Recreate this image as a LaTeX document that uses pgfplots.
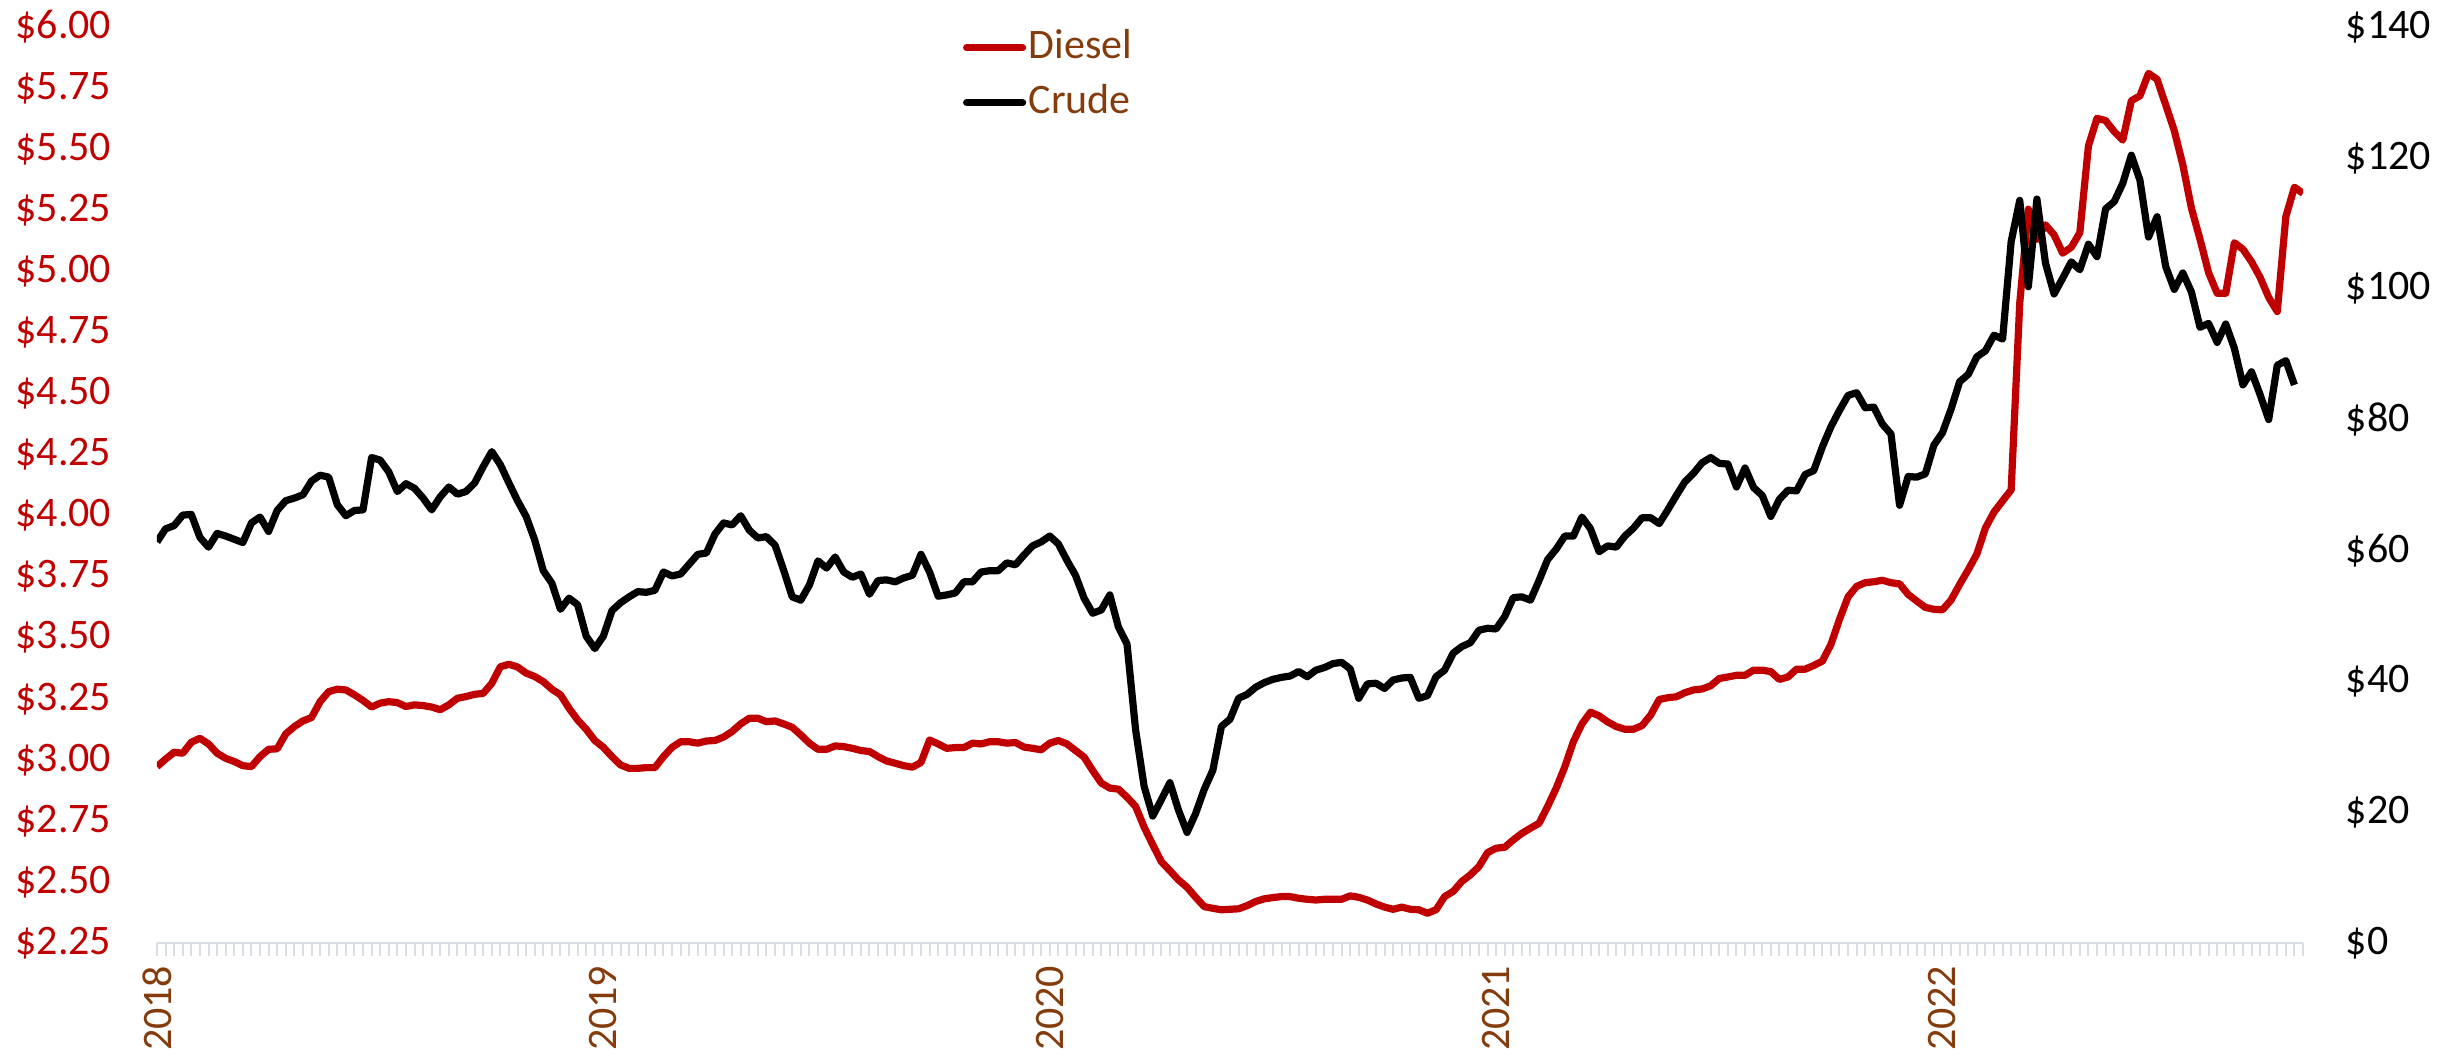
\documentclass[border=0pt]{standalone}
\usepackage{fontspec}
\setmainfont{Carlito}
\usepackage{pgfplots}
\pgfplotsset{compat=1.18}
\usepackage{pgfplotstable}
\definecolor{dred}{HTML}{C00000}
\definecolor{brn}{HTML}{843C0C}
\definecolor{axgray}{HTML}{D9DDE5}
\newcommand\lblfont{\fontsize{10.5}{12}\selectfont}

\pgfplotstableread{
d
2.972
3.003
3.031
3.027
3.072
3.088
3.065
3.027
3.006
2.993
2.976
2.972
3.013
3.043
3.045
3.106
3.136
3.159
3.173
3.238
3.279
3.289
3.286
3.266
3.243
3.216
3.232
3.238
3.234
3.218
3.225
3.222
3.216
3.205
3.225
3.252
3.259
3.268
3.272
3.313
3.381
3.391
3.380
3.355
3.341
3.320
3.289
3.266
3.211
3.163
3.125
3.079
3.051
3.013
2.979
2.965
2.965
2.968
2.968
3.013
3.051
3.074
3.074
3.068
3.077
3.079
3.093
3.116
3.147
3.170
3.170
3.156
3.159
3.147
3.133
3.102
3.068
3.043
3.043
3.057
3.054
3.047
3.038
3.034
3.013
2.995
2.986
2.976
2.970
2.989
3.081
3.065
3.047
3.050
3.050
3.068
3.065
3.074
3.074
3.068
3.071
3.052
3.047
3.041
3.068
3.079
3.065
3.038
3.011
2.956
2.905
2.884
2.880
2.847
2.809
2.724
2.652
2.583
2.546
2.508
2.478
2.437
2.399
2.392
2.386
2.388
2.390
2.403
2.420
2.431
2.436
2.440
2.440
2.433
2.429
2.426
2.429
2.429
2.429
2.443
2.437
2.426
2.410
2.397
2.388
2.397
2.388
2.386
2.372
2.386
2.440
2.461
2.502
2.529
2.563
2.620
2.638
2.642
2.672
2.699
2.720
2.740
2.809
2.884
2.971
3.074
3.147
3.195
3.180
3.155
3.136
3.125
3.125
3.140
3.183
3.247
3.254
3.258
3.275
3.286
3.290
3.303
3.333
3.339
3.346
3.346
3.367
3.367
3.361
3.329
3.339
3.371
3.371
3.386
3.404
3.472
3.575
3.667
3.710
3.725
3.729
3.735
3.725
3.720
3.677
3.650
3.624
3.616
3.614
3.654
3.718
3.778
3.842
3.949
4.014
4.060
4.105
4.870
5.254
5.131
5.190
5.149
5.074
5.098
5.158
5.513
5.626
5.617
5.572
5.537
5.698
5.718
5.810
5.786
5.681
5.576
5.435
5.258
5.131
4.994
4.910
4.910
5.117
5.090
5.039
4.975
4.893
4.835
5.224
5.344
5.319
}\dieseltab

\pgfplotstableread{
c
61.3
63.3
63.8
65.4
65.5
62.0
60.5
62.6
62.2
61.7
61.2
64.2
65.1
62.9
66.1
67.6
68.0
68.5
70.6
71.5
71.2
67.0
65.3
66.1
66.2
74.2
73.8
72.0
69.0
70.2
69.5
68.0
66.2
68.2
69.7
68.6
69.0
70.3
72.8
75.1
73.1
70.3
67.6
65.2
61.6
56.9
55.0
51.0
52.7
51.7
46.9
45.0
46.9
50.8
52.0
52.9
53.7
53.6
53.9
56.7
56.1
56.4
57.9
59.4
59.6
62.5
64.2
63.9
65.3
63.1
61.9
62.1
60.8
57.0
52.9
52.4
54.7
58.4
57.3
59.0
56.7
55.9
56.4
53.3
55.4
55.5
55.2
55.8
56.2
59.4
56.7
53.0
53.2
53.5
55.2
55.2
56.7
56.9
56.9
58.1
57.8
59.3
60.7
61.3
62.2
61.0
58.5
56.2
52.7
50.4
50.9
53.2
48.3
45.7
32.6
23.9
19.4
21.9
24.5
20.3
16.9
19.8
23.5
26.4
33.1
34.2
37.4
38.0
39.1
39.8
40.3
40.6
40.8
41.5
40.7
41.7
42.1
42.7
42.9
41.9
37.4
39.6
39.7
38.9
40.2
40.5
40.6
37.4
37.8
40.7
41.7
44.3
45.3
45.9
47.8
48.1
48.0
49.9
52.8
52.9
52.4
55.4
58.6
60.2
62.2
62.2
65.1
63.3
59.8
60.7
60.5
62.2
63.4
65.0
65.0
64.1
66.2
68.4
70.5
71.8
73.4
74.2
73.3
73.2
69.7
72.6
69.6
68.4
65.2
67.8
69.2
69.1
71.6
72.2
75.8
78.9
81.4
83.7
84.1
81.8
81.9
79.3
77.8
66.9
71.3
71.2
71.7
76.1
78.0
81.6
85.8
86.9
89.6
90.5
92.9
92.3
107.2
113.5
100.3
113.7
103.9
99.2
101.6
104.1
102.9
106.8
104.9
112.2
113.3
116.1
120.4
116.6
107.9
111.0
103.4
99.9
102.4
99.5
94.1
94.7
91.8
94.6
90.9
85.3
87.3
83.8
80.0
88.3
89.0
85.3
}\crudetab

\begin{document}
\begin{tikzpicture}
\pgfplotsset{/pgf/number format/assume math mode=true}
\begin{axis}[
  at={(0,0)}, anchor=south west,
  scale only axis, width=536.5pt, height=229pt,
  xmin=0, xmax=250, ymin=2.25, ymax=6,
  axis x line*=bottom, axis y line*=left,
  y axis line style={draw=none},
  x axis line style={draw=axgray, line width=0.6pt},
  xtick={0,52,104,156,208},
  xticklabels={2018,2019,2020,2021,2022},
  minor xtick={0,1,...,250},
  xtick align=outside, ytick align=inside,
  major tick length=3.3pt, minor tick length=3.3pt,
  xtick style={draw=axgray, line width=0.5pt},
  minor x tick style={draw=axgray, line width=0.5pt},
  xticklabel style={rotate=90, anchor=east, inner sep=0pt, font=\lblfont, text=brn},
  xticklabel shift=2.2pt,
  ytick={2.25,2.5,...,6},
  ytick style={draw=none},
  yticklabel={\$\pgfmathprintnumber[fixed,fixed zerofill,precision=2]{\tick}},
  yticklabel style={font=\lblfont, text=dred, inner sep=0pt, xshift=-11.25pt},
  legend style={at={(0.3756,0.998)}, anchor=north west, draw=none, fill=none,
    inner sep=0pt, outer sep=0pt, font=\lblfont, text=brn,
    row sep=4.2pt, column sep=0.6pt,
    nodes={inner sep=0pt, text height=7.5pt, text depth=2pt},
    cells={anchor=west}},
  legend image code/.code={\draw[#1, line cap=round] (0pt,0pt) -- (14pt,0pt);},
]
\addplot[dred, line width=1.8pt, line join=round, no markers] table[x expr=\coordindex, y=d]{\dieseltab};
\addlegendentry{Diesel}
\addlegendimage{black, line width=1.8pt}
\addlegendentry{Crude}
\end{axis}
\begin{axis}[
  at={(0,0)}, anchor=south west,
  scale only axis, width=536.5pt, height=229pt,
  xmin=0, xmax=250, ymin=0, ymax=140,
  axis x line=none, axis y line*=right,
  y axis line style={draw=none},
  ytick={0,20,...,140}, ytick style={draw=none}, ytick align=inside,
  yticklabel={\$\pgfmathprintnumber{\tick}},
  yticklabel style={font=\lblfont, text=black, inner sep=0pt, xshift=10.5pt},
]
\addplot[black, line width=1.8pt, line join=round, no markers] table[x expr=\coordindex, y=c]{\crudetab};
\end{axis}
\pgfresetboundingbox
\path[use as bounding box] (-39.25pt,-29.25pt) rectangle (575.75pt,235.75pt);
\end{tikzpicture}
\end{document}
